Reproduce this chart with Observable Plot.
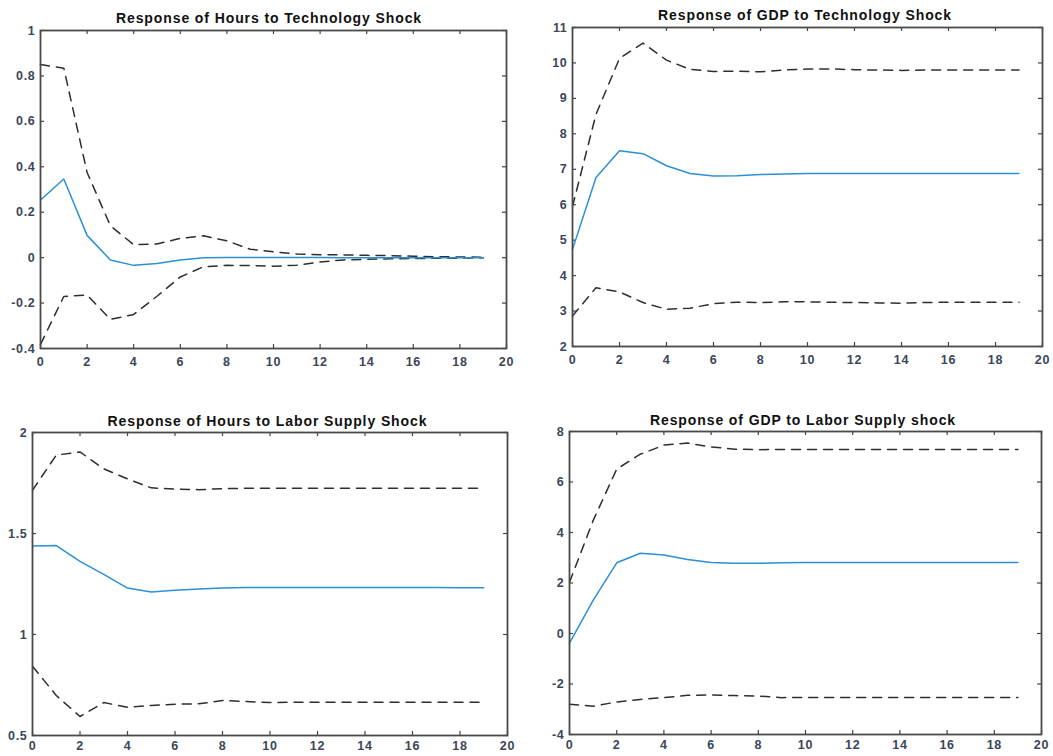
<!DOCTYPE html>
<html>
<head>
<meta charset="utf-8">
<script src="https://cdn.jsdelivr.net/npm/d3@7"></script>
<script src="https://cdn.jsdelivr.net/npm/@observablehq/plot@0.6"></script>
<style>
  html, body { margin: 0; padding: 0; background: #fff; }
  #fig { position: relative; width: 1053px; height: 756px; overflow: hidden; font-family: "Liberation Sans", Arial, sans-serif; }
  .panel { position: absolute; }
  .title { position: absolute; font-weight: bold; font-size: 14px; letter-spacing: 0.9px; color: #111; white-space: nowrap; transform: translateX(-50%); line-height: 1; }
  .panel svg text { letter-spacing: 0.7px; }
</style>
</head>
<body>
<div id="fig"></div>
<script>
// Impulse responses over a 20-period horizon: point estimate and confidence bands.
const horizon = d3.range(20);
const xTicks = [0, 2, 4, 6, 8, 10, 12, 14, 16, 18, 20];

// Hours to technology shock
const hoursTechMean  = [0.254, 0.346, 0.098, -0.010, -0.034, -0.026, -0.010, 0.000, 0.001, 0.001, 0.001, 0.001, 0.001, 0.000, 0.000, 0.000, 0.000, 0.000, 0.000, 0.000];
const hoursTechUpper = [0.850, 0.834, 0.375, 0.140, 0.057, 0.060, 0.085, 0.096, 0.074, 0.037, 0.026, 0.016, 0.013, 0.012, 0.010, 0.009, 0.006, 0.004, 0.003, 0.002];
const hoursTechLower = [-0.382, -0.171, -0.165, -0.272, -0.250, -0.170, -0.085, -0.040, -0.034, -0.035, -0.038, -0.033, -0.019, -0.010, -0.007, -0.005, -0.004, -0.003, -0.002, -0.001];
const hoursTechTicks = [-0.4, -0.2, 0, 0.2, 0.4, 0.6, 0.8, 1];

// GDP to technology shock
const gdpTechMean  = [4.74, 6.77, 7.52, 7.44, 7.10, 6.88, 6.81, 6.82, 6.85, 6.87, 6.88, 6.88, 6.88, 6.88, 6.88, 6.88, 6.88, 6.88, 6.88, 6.88];
const gdpTechUpper = [5.95, 8.55, 10.13, 10.56, 10.08, 9.82, 9.76, 9.77, 9.75, 9.80, 9.83, 9.83, 9.81, 9.80, 9.79, 9.80, 9.80, 9.80, 9.80, 9.80];
const gdpTechLower = [2.86, 3.66, 3.54, 3.24, 3.05, 3.08, 3.21, 3.25, 3.24, 3.26, 3.26, 3.25, 3.24, 3.23, 3.22, 3.24, 3.25, 3.25, 3.25, 3.25];
const gdpTechTicks = [2, 3, 4, 5, 6, 7, 8, 9, 10, 11];

// Hours to labor supply shock
const hoursLaborMean  = [1.438, 1.440, 1.362, 1.298, 1.230, 1.210, 1.219, 1.225, 1.230, 1.233, 1.233, 1.233, 1.233, 1.233, 1.233, 1.233, 1.233, 1.233, 1.232, 1.232];
const hoursLaborUpper = [1.714, 1.888, 1.904, 1.820, 1.770, 1.726, 1.720, 1.717, 1.722, 1.724, 1.724, 1.724, 1.724, 1.724, 1.724, 1.724, 1.724, 1.724, 1.724, 1.724];
const hoursLaborLower = [0.843, 0.698, 0.594, 0.663, 0.640, 0.649, 0.655, 0.657, 0.673, 0.668, 0.663, 0.665, 0.665, 0.665, 0.665, 0.665, 0.665, 0.665, 0.665, 0.665];
const hoursLaborTicks = [0.5, 1, 1.5, 2];

// GDP to labor supply shock
const gdpLaborMean  = [-0.38, 1.31, 2.80, 3.18, 3.11, 2.93, 2.81, 2.78, 2.78, 2.80, 2.81, 2.81, 2.81, 2.81, 2.81, 2.81, 2.81, 2.81, 2.81, 2.81];
const gdpLaborUpper = [2.03, 4.47, 6.51, 7.10, 7.46, 7.54, 7.39, 7.30, 7.28, 7.29, 7.29, 7.29, 7.29, 7.29, 7.29, 7.29, 7.29, 7.29, 7.29, 7.29];
const gdpLaborLower = [-2.80, -2.88, -2.71, -2.61, -2.54, -2.45, -2.43, -2.46, -2.48, -2.54, -2.53, -2.53, -2.53, -2.53, -2.53, -2.53, -2.53, -2.53, -2.53, -2.53];
const gdpLaborTicks = [-4, -2, 0, 2, 4, 6, 8];

const titles = [
  "Response of Hours to Technology Shock",
  "Response of GDP to Technology Shock",
  "Response of Hours to Labor Supply Shock",
  "Response of GDP to Labor Supply shock"
];

// Panel frames on the page: [left, top, right, bottom] of each plotting box
const panels = [
  {title: titles[0], mean: hoursTechMean,  upper: hoursTechUpper,  lower: hoursTechLower,  yTicks: hoursTechTicks,  box: [40, 30, 506, 348],  titleY: 11,  xPad: 9, titleDx: -4},
  {title: titles[1], mean: gdpTechMean,    upper: gdpTechUpper,    lower: gdpTechLower,    yTicks: gdpTechTicks,    box: [572, 27, 1042, 346], titleY: 8,   xPad: 9, titleDx: -2},
  {title: titles[2], mean: hoursLaborMean, upper: hoursLaborUpper, lower: hoursLaborLower, yTicks: hoursLaborTicks, box: [32, 432, 507, 735], titleY: 414, xPad: 6, titleDx: -2},
  {title: titles[3], mean: gdpLaborMean,   upper: gdpLaborUpper,   lower: gdpLaborLower,   yTicks: gdpLaborTicks,   box: [569, 431, 1041, 734], titleY: 413, xPad: 6, titleDx: -2}
];

const fig = document.getElementById("fig");
const labelColor = "#3b4658";
const meanColor = "#2d8fd5";
const bandColor = "#2e2e2e";
const tickLen = 4;

for (const p of panels) {
  const [x0, y0, x1, y1] = p.box;
  const fw = x1 - x0, fh = y1 - y0;
  const ml = 32, mr = 10, mt = 6, mb = 22;
  const fmt = d => String(d);

  const chart = Plot.plot({
    width: fw + ml + mr,
    height: fh + mt + mb,
    marginLeft: ml, marginRight: mr, marginTop: mt, marginBottom: mb,
    x: {domain: [0, 20]},
    y: {domain: d3.extent(p.yTicks)},
    style: {
      fontFamily: "'Liberation Sans', Arial, sans-serif",
      fontSize: "12.5px",
      fontWeight: "bold",
      color: labelColor,
      background: "transparent",
      overflow: "visible"
    },
    marks: [
      Plot.axisX(xTicks, {tickSize: 0, tickPadding: p.xPad, tickFormat: fmt, fill: labelColor, fontSize: 12.5}),
      Plot.axisY(p.yTicks, {tickSize: 0, tickPadding: 5, tickFormat: fmt, fill: labelColor, fontSize: 12.5}),
      // inward tick marks on all four sides
      Plot.tickX(xTicks, {x: d => d, insetTop: fh - tickLen, stroke: "#444", strokeWidth: 1.2}),
      Plot.tickX(xTicks, {x: d => d, insetBottom: fh - tickLen, stroke: "#444", strokeWidth: 1.2}),
      Plot.tickY(p.yTicks, {y: d => d, insetRight: fw - tickLen, stroke: "#444", strokeWidth: 1.2}),
      Plot.tickY(p.yTicks, {y: d => d, insetLeft: fw - tickLen, stroke: "#444", strokeWidth: 1.2}),
      // confidence bands and point estimate
      Plot.lineY(p.upper, {x: horizon, stroke: bandColor, strokeWidth: 1.5, strokeDasharray: "9,7"}),
      Plot.lineY(p.lower, {x: horizon, stroke: bandColor, strokeWidth: 1.5, strokeDasharray: "9,7"}),
      Plot.lineY(p.mean, {x: horizon, stroke: meanColor, strokeWidth: 1.5}),
      Plot.frame({stroke: "#4a4a4a", strokeWidth: 1.8})
    ]
  });

  const wrap = document.createElement("div");
  wrap.className = "panel";
  wrap.style.left = (x0 - ml) + "px";
  wrap.style.top = (y0 - mt) + "px";
  wrap.appendChild(chart);
  fig.appendChild(wrap);

  const t = document.createElement("div");
  t.className = "title";
  t.textContent = p.title;
  t.style.left = ((x0 + x1) / 2 + p.titleDx) + "px";
  t.style.top = p.titleY + "px";
  fig.appendChild(t);
}
</script>
</body>
</html>
